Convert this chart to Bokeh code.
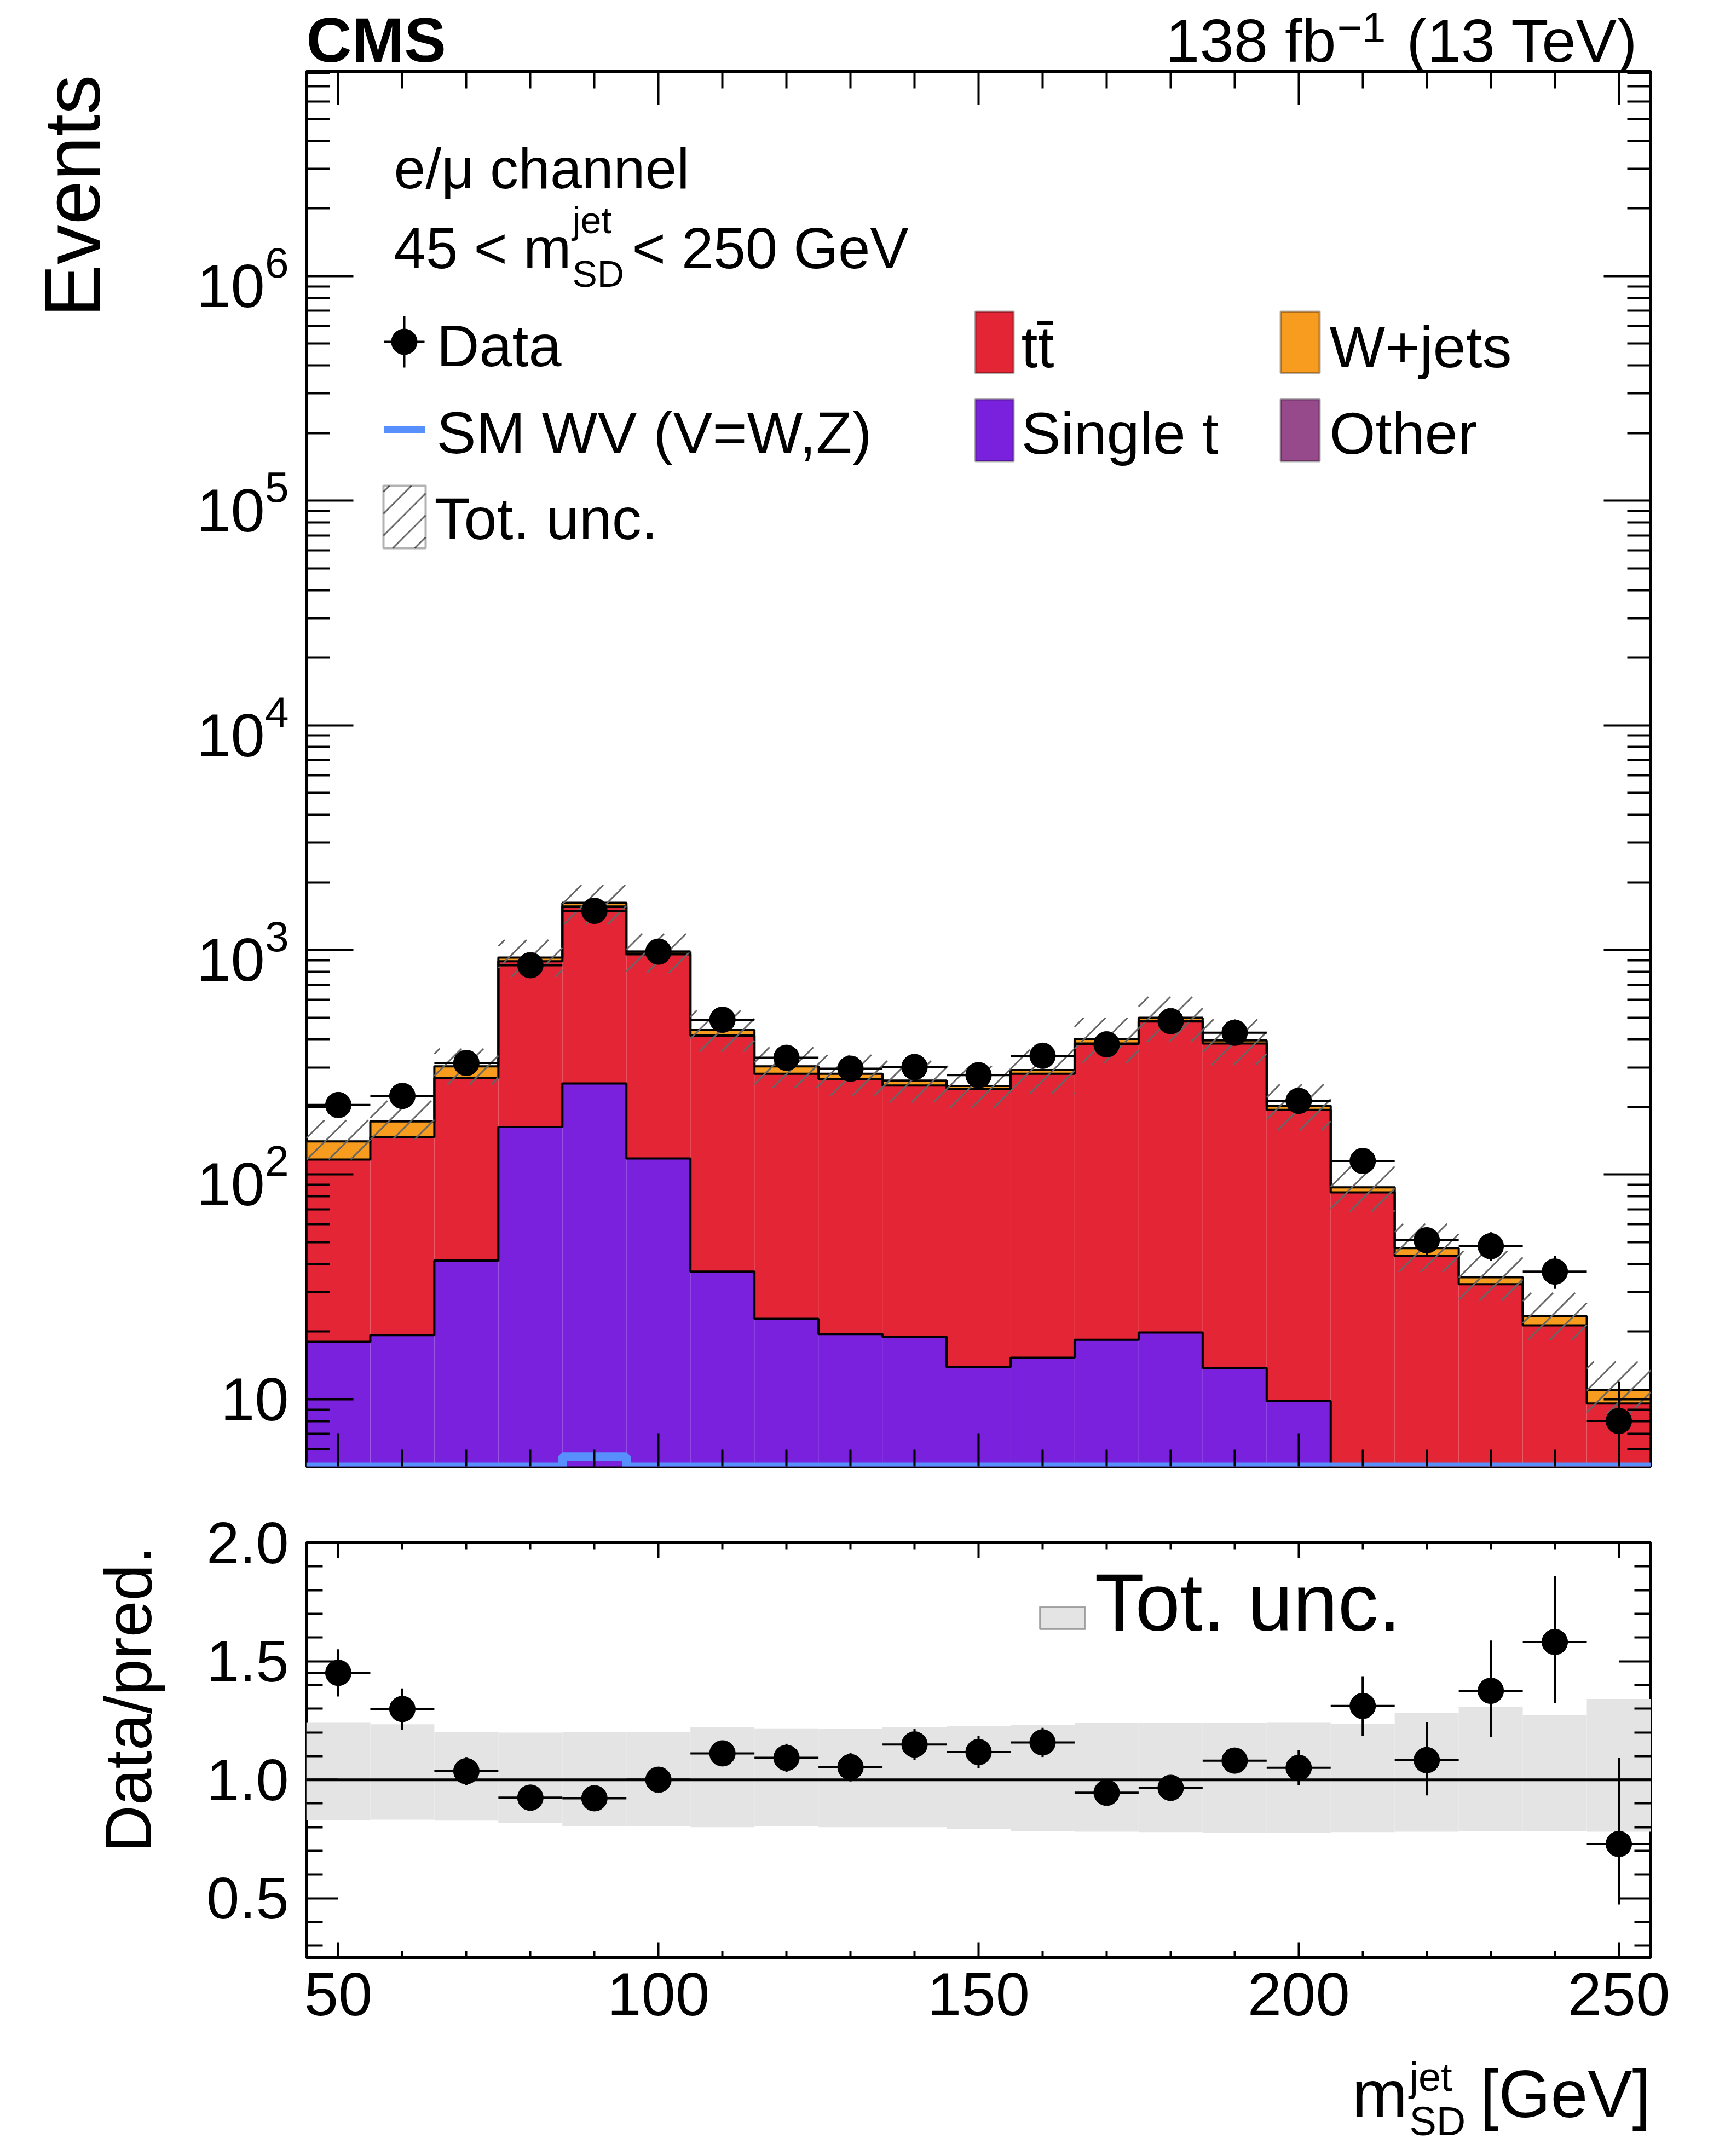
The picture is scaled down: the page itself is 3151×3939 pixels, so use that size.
import numpy as np
from bokeh.plotting import figure
from bokeh.layouts import column, row
from bokeh.models import (Range1d, FixedTicker, LinearAxis, LogAxis, LogTickFormatter,
                          PrintfTickFormatter, CustomJSTickFormatter, Label, BoxAnnotation, Span)
from bokeh.embed import file_html
from bokeh.resources import INLINE

FONT = "Liberation Sans"

# soft-drop jet mass bins (centres, GeV), width 10
mass = [50, 60, 70, 80, 90, 100, 110, 120, 130, 140, 150,
        160, 170, 180, 190, 200, 210, 220, 230, 240, 250]
BIN_W = 10

data_counts = [204, 224, 314, 855, 1494, 983, 489, 331, 296, 301, 277,
               338, 380, 482, 428, 213, 115, 51, 48, 37, 8]
data_err_up = [14, 15, 18, 29, 39, 31, 22, 18, 17, 17, 17,
               18, 19, 22, 21, 15, 11, 7.6, 7.4, 6.5, 4.0]
data_err_dn = [14, 15, 18, 29, 39, 31, 22, 18, 17, 17, 17,
               18, 19, 22, 21, 15, 11, 7.0, 6.8, 6.0, 2.8]

# stacked backgrounds, bottom to top
other = [1.0, 1.1, 1.3, 1.8, 2.4, 1.9, 1.4, 1.2, 1.1, 1.0, 0.9,
         1.0, 1.0, 1.0, 0.9, 0.8, 0.6, 0.5, 0.4, 0.3, 0.2]
single_t = [17.0, 18.2, 40.1, 161, 252, 116, 35.6, 21.6, 18.4, 18.0, 13.0,
            14.3, 17.4, 18.8, 12.9, 9.0, 2.5, 1.8, 1.2, 0.8, 0.5]
ttbar = [98.7, 127.9, 228.2, 728, 1306, 839, 378.6, 258.2, 247.5, 230, 226.1,
         265.7, 364.6, 460.2, 369.2, 184.2, 80.2, 41.2, 30.9, 20.2, 8.86]
wjets = [23.9, 25.3, 33.4, 34, 60, 26, 24.4, 22, 14, 13, 8,
         11, 19, 19, 13, 8.8, 4.4, 3.6, 2.4, 2.1, 1.41]
sm_wv = [1.5, 1.8, 2.5, 3.6, 5.55, 3.8, 2.2, 1.5, 1.2, 1.0, 0.9,
         0.8, 0.7, 0.6, 0.5, 0.4, 0.3, 0.2, 0.2, 0.1, 0.1]

# total uncertainty, relative to the prediction
unc_up = [1.243, 1.234, 1.201, 1.199, 1.201, 1.201, 1.223, 1.217, 1.214, 1.223, 1.228,
          1.232, 1.241, 1.239, 1.241, 1.243, 1.237, 1.283, 1.308, 1.272, 1.341]
unc_dn = [0.830, 0.832, 0.828, 0.817, 0.804, 0.804, 0.800, 0.804, 0.800, 0.800, 0.792,
          0.784, 0.781, 0.779, 0.777, 0.777, 0.779, 0.781, 0.784, 0.784, 0.781]

C_TT = "#e42536"
C_WJ = "#f89c20"
C_ST = "#7a21dd"
C_OT = "#964a8b"
C_WV = "#5790fc"
C_UNC = "#e4e4e4"
C_HATCH = "#666666"

X_MIN, X_MAX = 45, 255
Y_MIN, Y_MAX = 5.01, 8.15e6
R_MIN, R_MAX = 0.25, 2.0
FRAME_W, FRAME_H = 2456, 2549
LOG_LO, LOG_HI = np.log10(Y_MIN), np.log10(Y_MAX)
BASE_FIX = 0.27   # Label draws its alphabetic baseline a bit low

x = np.array(mass, dtype=float)
left = x - BIN_W / 2
right = x + BIN_W / 2
edges = np.append(left, right[-1])

c_ot = np.array(other)
c_st = c_ot + np.array(single_t)
c_tt = c_st + np.array(ttbar)
c_wj = c_tt + np.array(wjets)
total = c_wj
d = np.array(data_counts, dtype=float)
eu = np.array(data_err_up)
ed = np.array(data_err_dn)

NO_LABELS = CustomJSTickFormatter(code="return ''")


def px_x(v):
    return (np.asarray(v, dtype=float) - X_MIN) / (X_MAX - X_MIN) * FRAME_W


def px_y(v):
    return (np.log10(v) - LOG_LO) / (LOG_HI - LOG_LO) * FRAME_H


def to_x(X):
    return X_MIN + np.asarray(X, dtype=float) / FRAME_W * (X_MAX - X_MIN)


def to_y(Y):
    return 10 ** (LOG_LO + np.asarray(Y, dtype=float) / FRAME_H * (LOG_HI - LOG_LO))


def hatch_lines(rects, spacing=40):
    # 45 degree hatching on a common lattice, clipped to each rectangle (frame pixels)
    x0s, y0s, x1s, y1s = [], [], [], []
    for X0, X1, Y0, Y1 in rects:
        c = np.floor((X0 - Y1) / spacing) * spacing
        while c < X1 - Y0:
            a, b = max(X0, Y0 + c), min(X1, Y1 + c)
            if b - a > 1:
                x0s.append(a); y0s.append(a - c); x1s.append(b); y1s.append(b - c)
            c += spacing
    return dict(x0=to_x(x0s), y0=to_y(y0s), x1=to_x(x1s), y1=to_y(y1s))


def step_xy(vals, floor):
    xs = np.concatenate([[edges[0]], np.repeat(edges, 2)[1:-1], [edges[-1]]])
    ys = np.concatenate([[floor], np.repeat(vals, 2), [floor]])
    return xs, ys


def style_axis(ax, major_in, minor_in, label_size=None, standoff=10):
    ax.axis_line_color = None
    ax.major_tick_in = major_in
    ax.major_tick_out = 0
    ax.minor_tick_in = minor_in
    ax.minor_tick_out = 0
    ax.major_tick_line_width = 4
    ax.minor_tick_line_width = 4
    ax.major_tick_line_color = "black"
    ax.minor_tick_line_color = "black"
    ax.major_label_text_font = FONT
    ax.major_label_text_color = "black"
    if label_size:
        ax.major_label_text_font_size = f"{label_size}px"
        ax.major_label_standoff = standoff
    else:
        ax.formatter = NO_LABELS
        ax.major_label_text_font_size = "1px"
        ax.major_label_standoff = 0


def txt(fig, text, sx, sy, size, align="left", bold=False, angle=0.0):
    k = BASE_FIX * size
    fig.add_layout(Label(x=sx - k * np.sin(angle), y=sy + k * np.cos(angle),
                         x_units="screen", y_units="screen", text=text,
                         text_font=FONT, text_font_size=f"{size}px", text_align=align,
                         text_baseline="alphabetic", angle=angle, text_color="black",
                         text_font_style="bold" if bold else "normal"))


def box(fig, sx0, sx1, sy0, sy1, **kw):
    fig.add_layout(BoxAnnotation(left=sx0, right=sx1, bottom=sy0, top=sy1,
                                 left_units="screen", right_units="screen",
                                 bottom_units="screen", top_units="screen", **kw))


def strip(w, h):
    # empty figure used only to carry texts; in a row its frame takes the neighbour's borders
    s = figure(width=w, height=h, x_range=Range1d(0, w), y_range=Range1d(0, h),
               output_backend="svg", toolbar_location=None, tools="",
               x_axis_location=None, y_axis_location=None,
               min_border_left=0, min_border_right=0, min_border_top=0, min_border_bottom=0)
    s.outline_line_color = None
    s.grid.visible = False
    return s


x_range = Range1d(X_MIN, X_MAX)
x_major = [50, 100, 150, 200, 250]
x_minor = [v for v in mass if v not in x_major]

# ---------------- main panel ----------------
p = figure(width=2805, height=2621, x_range=x_range, y_range=Range1d(Y_MIN, Y_MAX),
           y_axis_type="log", output_backend="svg", toolbar_location=None, tools="",
           min_border_left=229, min_border_right=120, min_border_top=2, min_border_bottom=70)
p.xgrid.grid_line_color = None
p.ygrid.grid_line_color = None
p.outline_line_color = "black"
p.outline_line_width = 5

log_major = [1e1, 1e2, 1e3, 1e4, 1e5, 1e6]
log_minor = [m * 10.0 ** k for k in range(0, 7) for m in range(2, 10) if Y_MIN < m * 10.0 ** k < Y_MAX]

p.yaxis[0].ticker = FixedTicker(ticks=log_major, minor_ticks=log_minor)
p.yaxis[0].formatter = LogTickFormatter(min_exponent=2)
style_axis(p.yaxis[0], 86, 43, 112, 32)
p.xaxis[0].ticker = FixedTicker(ticks=x_major, minor_ticks=x_minor)
style_axis(p.xaxis[0], 61, 31)
ry = LogAxis(ticker=FixedTicker(ticks=log_major, minor_ticks=log_minor))
style_axis(ry, 86, 43)
p.add_layout(ry, "right")
tx = LinearAxis(ticker=FixedTicker(ticks=x_major, minor_ticks=x_minor))
style_axis(tx, 61, 31)
p.add_layout(tx, "above")

floor = Y_MIN / 100
p.quad(left=left, right=right, bottom=floor, top=c_ot, fill_color=C_OT, line_color=None)
p.quad(left=left, right=right, bottom=c_ot, top=c_st, fill_color=C_ST, line_color=None)
p.quad(left=left, right=right, bottom=c_st, top=c_tt, fill_color=C_TT, line_color=None)
p.quad(left=left, right=right, bottom=c_tt, top=c_wj, fill_color=C_WJ, line_color=None)
for cum in (c_ot, c_st, c_tt, c_wj):
    sx_, sy_ = step_xy(cum, floor)
    p.line(sx_, sy_, line_color="black", line_width=4)

# hatched total uncertainty band
band_rects = zip(px_x(left), px_x(right),
                 px_y(total * np.array(unc_dn)), px_y(total * np.array(unc_up)))
p.segment(**hatch_lines(band_rects), line_color=C_HATCH, line_width=3)

# SM WV, drawn at the axis minimum where it is below the range
wx, wy = step_xy(np.maximum(np.array(sm_wv), Y_MIN), Y_MIN)
p.line(wx[1:-1], wy[1:-1], line_color=C_WV, line_width=16)

# data
p.segment(x0=x, x1=x, y0=d - ed, y1=d + eu, line_color="black", line_width=4)
p.segment(x0=left, x1=right, y0=d, y1=d, line_color="black", line_width=4)
p.scatter(x, d, size=47, color="black")

txt(p, "e/\u03bc channel", 160, 2343, 104)
txt(p, "45 < m", 160, 2198, 105)
txt(p, "jet", 486, 2259, 68)
txt(p, "SD", 486, 2161, 68)
txt(p, "< 250 GeV", 595, 2198, 105)

# legend
mx, my = 179, 2055
p.segment(x0=to_x([mx, mx - 37]), x1=to_x([mx, mx + 37]),
          y0=to_y([my - 47, my]), y1=to_y([my + 47, my]),
          line_color="black", line_width=4)
p.scatter(to_x([mx]), to_y([my]), size=47, color="black")
txt(p, "Data", 238, 2019, 108)
box(p, 142, 217, 1888, 1901, fill_color=C_WV, fill_alpha=1, line_color=None)
txt(p, "SM WV (V=W,Z)", 238, 1860, 108)
p.segment(**hatch_lines([(141, 218, 1678, 1792)]), line_color=C_HATCH, line_width=3)
box(p, 141, 218, 1678, 1792, fill_alpha=0, line_color="black", line_width=4)
txt(p, "Tot. unc.", 234, 1703, 108)
box(p, 1222, 1292, 1998, 2110, fill_color=C_TT, fill_alpha=1, line_color="black", line_width=4)
txt(p, "tt\u0304", 1306, 2017, 108)
box(p, 1222, 1292, 1837, 1950, fill_color=C_ST, fill_alpha=1, line_color="black", line_width=4)
txt(p, "Single t", 1306, 1859, 108)
box(p, 1780, 1851, 1998, 2110, fill_color=C_WJ, fill_alpha=1, line_color="black", line_width=4)
txt(p, "W+jets", 1869, 2017, 108)
box(p, 1780, 1851, 1837, 1950, fill_color=C_OT, fill_alpha=1, line_color="black", line_width=4)
txt(p, "Other", 1869, 1859, 108)

# ---------------- ratio panel ----------------
r = figure(width=2805, height=992, x_range=x_range, y_range=Range1d(R_MIN, R_MAX),
           output_backend="svg", toolbar_location=None, tools="",
           min_border_left=229, min_border_right=120, min_border_top=69, min_border_bottom=165)
r.xgrid.grid_line_color = None
r.ygrid.grid_line_color = None
r.outline_line_color = "black"
r.outline_line_width = 5

r_major = [0.5, 1.0, 1.5, 2.0]
r_minor = [0.3, 0.4, 0.6, 0.7, 0.8, 0.9, 1.1, 1.2, 1.3, 1.4, 1.6, 1.7, 1.8, 1.9]
r.yaxis[0].ticker = FixedTicker(ticks=r_major, minor_ticks=r_minor)
r.yaxis[0].formatter = PrintfTickFormatter(format="%.1f")
style_axis(r.yaxis[0], 58, 30, 108, 32)
r.xaxis[0].ticker = FixedTicker(ticks=x_major, minor_ticks=x_minor)
style_axis(r.xaxis[0], 28, 12, 112, 28)
rr = LinearAxis(ticker=FixedTicker(ticks=r_major, minor_ticks=r_minor))
style_axis(rr, 58, 30)
r.add_layout(rr, "right")
rt = LinearAxis(ticker=FixedTicker(ticks=x_major, minor_ticks=x_minor))
style_axis(rt, 28, 12)
r.add_layout(rt, "above")

r.quad(left=left, right=right, bottom=unc_dn, top=unc_up, fill_color=C_UNC, line_color=None)
r.add_layout(Span(location=1.0, dimension="width", line_color="black", line_width=5))
ratio = d / total
r.segment(x0=x, x1=x, y0=(d - ed) / total, y1=(d + eu) / total, line_color="black", line_width=4)
r.segment(x0=left, x1=right, y0=ratio, y1=ratio, line_color="black", line_width=4)
r.scatter(x, ratio, size=47, color="black")

box(r, 1340, 1423, 600, 641, fill_color=C_UNC, fill_alpha=1, line_color="black", line_width=3)
txt(r, "Tot. unc.", 1440, 609, 148)

# ---------------- texts outside the frames ----------------
top = strip(3135, 128)
txt(top, "CMS", 559, 24, 115, bold=True)
txt(top, "138 fb", 2440, 24, 112, align="right")
txt(top, "\u22121", 2442, 57, 78)
txt(top, "(13 TeV)", 2992, 24, 112, align="right")

# these strips share the frame rows of the panels next to them
left_main = strip(330, 2621)
txt(left_main, "Events", 171, 2543, 145, align="right", angle=np.pi / 2)

left_ratio = strip(330, 992)
txt(left_ratio, "Data/pred.", 266, 752, 120, align="right", angle=np.pi / 2)

bottom = strip(3135, 174)
txt(bottom, "m", 2469, 57, 122)
txt(bottom, "jet", 2574, 101, 74)
txt(bottom, "SD", 2574, 20, 74)
txt(bottom, "[GeV]", 3015, 57, 122, align="right")

layout = column(top, row(left_main, p), row(left_ratio, r), bottom)
open("out.html", "w").write(file_html(layout, INLINE))
